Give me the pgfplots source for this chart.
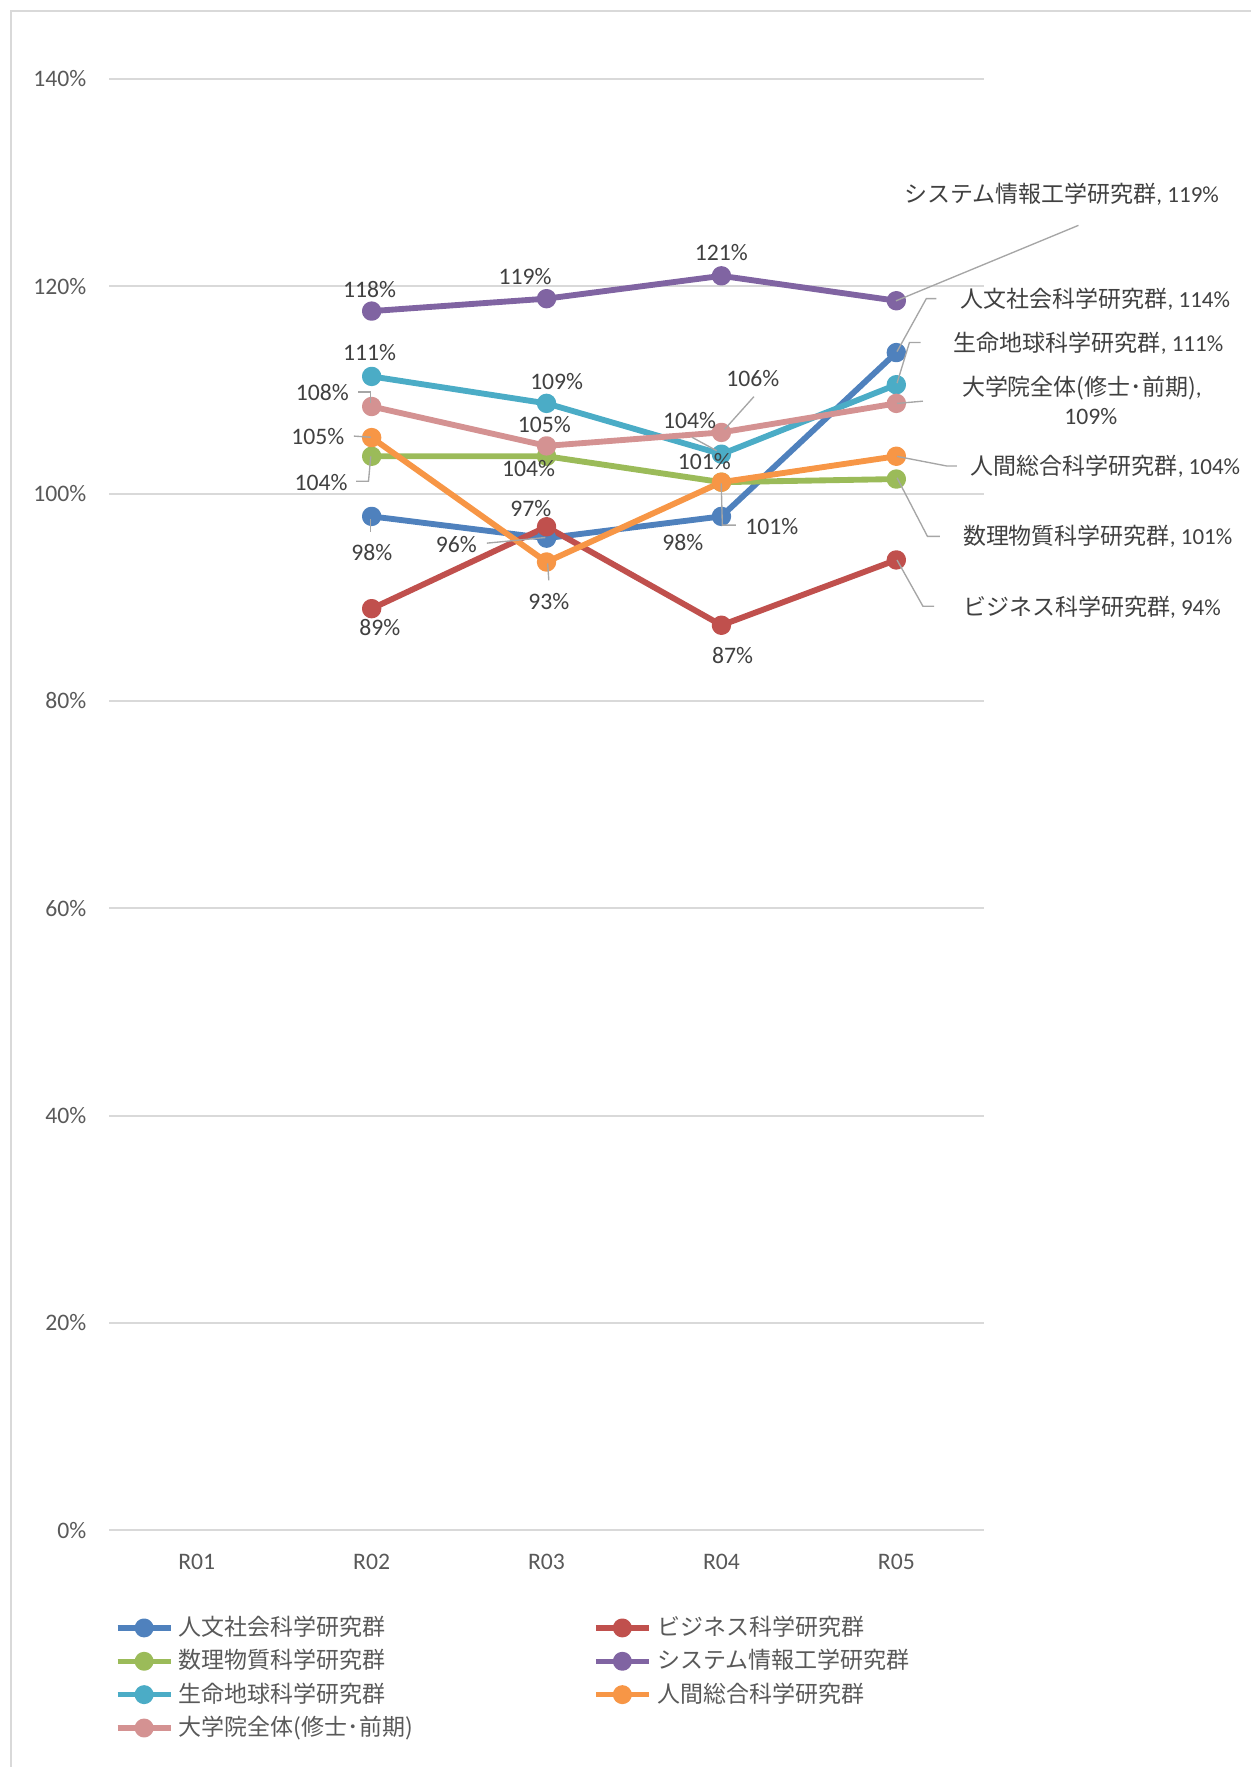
\documentclass[border=0pt]{standalone}
\usepackage{pgfplots}
\pgfplotsset{compat=1.18}
\usepackage{fontspec}
\setmainfont{Carlito}
\newfontfamily\cjk{Noto Sans CJK JP}
\definecolor{cblue}{HTML}{4F81BD}
\definecolor{cred}{HTML}{C0504D}
\definecolor{cgreen}{HTML}{9BBB59}
\definecolor{cpurple}{HTML}{8064A2}
\definecolor{cteal}{HTML}{4BACC6}
\definecolor{corange}{HTML}{F79646}
\definecolor{cpink}{HTML}{D49292}
\definecolor{txt}{HTML}{595959}
\definecolor{lbl}{HTML}{404040}
\definecolor{gridc}{HTML}{D9D9D9}
\definecolor{leader}{HTML}{A6A6A6}
\newcommand\lab[3]{\node[text=lbl, font=\fontsize{10.5}{12}\selectfont, inner sep=0pt] at (#1,#2) {#3};}
\newcommand\jlab[3]{\node[text=lbl, font=\fontsize{10.2}{12}\selectfont, inner sep=0pt] at (#1,#2) {#3};}
\begin{document}
\begin{tikzpicture}
\begin{scope}[x=0.5pt,y=-0.5pt,shift={(-48.5pt,679pt)}]
\path[use as bounding box] (0,0) rectangle (1110,1568);
\draw[gridc, line width=0.8pt] (1110,10) -- (10,10) -- (10,1568);
\end{scope}
\begin{axis}[
  at={(0,0)}, anchor=south west,
  width=388pt, height=644pt, scale only axis,
  xmin=-0.5, xmax=4.5, ymin=0, ymax=140,
  xtick={0,1,2,3,4}, xticklabels={R01,R02,R03,R04,R05},
  ytick={0,20,40,60,80,100,120,140},
  yticklabels={0\%,20\%,40\%,60\%,80\%,100\%,120\%,140\%},
  axis line style={draw=none},
  major tick length=0pt,
  ymajorgrids, major grid style={gridc, line width=0.9pt},
  tick label style={text=txt, font=\fontsize{10.5}{12}\selectfont, inner sep=0pt},
  yticklabel style={anchor=east, xshift=-10pt},
  xticklabel style={anchor=center, yshift=-14pt},
  clip=false,
  legend columns=2,
  legend cell align=left,
  legend style={draw=none, fill=none, inner sep=0pt, outer sep=0pt,
    at={(rel axis cs:0.0103,0)}, anchor=north west, yshift=-37pt, xshift=-1.5pt,
    font=\fontsize{10.2}{12}\selectfont, text=txt, row sep=2.2pt,
    nodes={inner sep=1pt, text height=8.6pt, text depth=2pt},
    /tikz/every odd column/.append style={column sep=1.5pt},
    /tikz/every even column/.append style={column sep=79pt}},
  legend image code/.code={\draw[#1, line width=2.4pt, mark repeat=2, mark phase=2] plot coordinates {(0pt,0pt)(11.75pt,0pt)(23.5pt,0pt)};},
  every axis plot/.append style={line width=2.6pt, mark=*, mark size=3pt, line join=round, mark options={solid}},
]
\addplot[cblue] coordinates {(1,97.8)(2,95.7)(3,97.8)(4,113.6)};
\addlegendentry{\cjk 人文社会科学研究群}
\addplot[cred] coordinates {(1,88.9)(2,96.8)(3,87.3)(4,93.6)};
\addlegendentry{\cjk ビジネス科学研究群}
\addplot[cgreen] coordinates {(1,103.6)(2,103.6)(3,101.1)(4,101.4)};
\addlegendentry{\cjk 数理物質科学研究群}
\addplot[cpurple] coordinates {(1,117.6)(2,118.8)(3,121.0)(4,118.6)};
\addlegendentry{\cjk システム情報工学研究群}
\addplot[cteal] coordinates {(1,111.3)(2,108.7)(3,103.8)(4,110.5)};
\addlegendentry{\cjk 生命地球科学研究群}
\addplot[corange] coordinates {(1,105.4)(2,93.4)(3,101.1)(4,103.6)};
\addlegendentry{\cjk 人間総合科学研究群}
\addplot[cpink] coordinates {(1,108.4)(2,104.6)(3,105.9)(4,108.7)};
\addlegendentry{\cjk 大学院全体(修士･前期)}
\end{axis}
\begin{scope}[x=0.5pt,y=-0.5pt,shift={(-48.5pt,679pt)}]
% leader lines
\draw[leader, line width=0.6pt] (795,267)--(957,200);
\draw[leader, line width=0.6pt] (614,388)--(636,400);
\draw[leader, line width=0.6pt] (796,340)--(807,304)--(817,304);
\draw[leader, line width=0.6pt] (318,348)--(329,348)--(329,358);
\draw[leader, line width=0.6pt] (669,352)--(643,381);
\draw[leader, line width=0.6pt] (796,358)--(819,356);
\draw[leader, line width=0.6pt] (314,387)--(329,388);
\draw[leader, line width=0.6pt] (486,500)--(487,515);
\draw[leader, line width=0.6pt] (640,429)--(641,466)--(653,466);
\draw[leader, line width=0.6pt] (796,405)--(840,413.5)--(849,413.5);
\draw[leader, line width=0.6pt] (329,405)--(327,427)--(316,427);
\draw[leader, line width=0.6pt] (796,424)--(823,476)--(834,476);
\draw[leader, line width=0.6pt] (329,461)--(329,472);
\draw[leader, line width=0.6pt] (432,482)--(484,477);
\draw[leader, line width=0.6pt] (796,312)--(822,265)--(831,265);
\draw[leader, line width=0.6pt] (796,497)--(819,538)--(829,538);
% purple
\lab{328}{257}{118\%}
\lab{466}{245}{119\%}
\lab{640}{224}{121\%}
\jlab{942}{172}{{\cjk システム情報工学研究群}, 119\%}
% teal
\lab{328}{313}{111\%}
\lab{494}{339}{109\%}
\lab{612}{373}{104\%}
\jlab{966}{305}{{\cjk 生命地球科学研究群}, 111\%}
% pink
\lab{286}{348}{108\%}
\lab{483}{377}{105\%}
\lab{668}{336}{106\%}
\jlab{960}{344}{{\cjk 大学院全体(修士･前期)},}
\lab{968}{370}{109\%}
% orange
\lab{282}{387}{105\%}
\lab{487}{534}{93\%}
\lab{685}{467}{101\%}
\jlab{981}{414}{{\cjk 人間総合科学研究群}, 104\%}
% green
\lab{285}{428}{104\%}
\lab{469}{416}{104\%}
\lab{625}{410}{101\%}
\jlab{974}{476}{{\cjk 数理物質科学研究群}, 101\%}
% blue
\lab{330}{490}{98\%}
\lab{405}{483}{96\%}
\lab{606}{481}{98\%}
\jlab{972}{266}{{\cjk 人文社会科学研究群}, 114\%}
% red
\lab{337}{557}{89\%}
\lab{471}{451}{97\%}
\lab{650}{582}{87\%}
\jlab{969}{539}{{\cjk ビジネス科学研究群}, 94\%}
\end{scope}
\end{tikzpicture}
\end{document}
